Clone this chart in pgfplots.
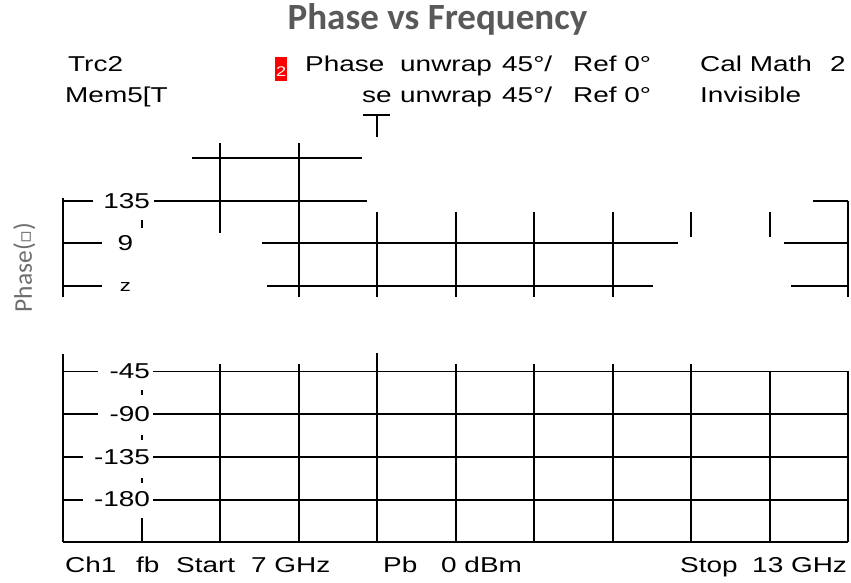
\documentclass[border=0pt]{standalone}
\usepackage{pgfplots}
\pgfplotsset{compat=1.18}
\usepackage{fontspec}
\setmainfont{Liberation Sans}
\newfontfamily\vna[FakeStretch=1.3]{Liberation Sans}
\newfontfamily\calib{Carlito}
\newfontfamily\dejavu{DejaVu Sans}
\definecolor{titlegray}{HTML}{595959}
\definecolor{labgray}{HTML}{6E6E6E}
\tikzset{
  gl/.style={black, line width=1.9pt},
  lab/.style={font=\vna\fontsize{21.5}{24}\selectfont, inner sep=0pt, text=black},
}
\begin{document}
\begin{tikzpicture}
\useasboundingbox (-63.3pt,-40.7pt) rectangle (787.7pt,542.3pt);
\begin{axis}[
  scale only axis, width=785pt, height=427pt,
  xmin=7, xmax=13, ymin=-225, ymax=225, enlargelimits=false,
  clip=false, axis line style={draw=none},
  xtick=\empty, ytick=\empty,
  title={\calib\bfseries\fontsize{37}{40}\selectfont Phase vs Frequency},
  every axis title/.style={at={(axis description cs:0.4767,1.1998)}, anchor=base, color=titlegray, inner sep=0pt},
  ylabel={\calib\fontsize{25.5}{28}\selectfont Phase({\dejavu\fontsize{19}{19}\selectfont ▫})},
  every axis y label/.style={at={(axis description cs:-0.0399,0.6436)}, rotate=90, anchor=base, color=labgray, inner sep=0pt},
]
% ---- upper fragment ----
\addplot[gl] coordinates {(9.29,225) (9.50,225)};
\addplot[gl] coordinates {(9.4,225) (9.4,202.4)};
\addplot[gl] coordinates {(7.984,180) (9.283,180)};
\addplot[gl] coordinates {(8.2,196) (8.2,101.3)};
\addplot[gl] coordinates {(8.8,196) (8.8,33.8)};
\addplot[gl] coordinates {(7,135) (7.227,135)};
\addplot[gl] coordinates {(7.693,135) (9.321,135)};
\addplot[gl] coordinates {(7,138) (7,33.8)};
\addplot[gl] coordinates {(7.6,115) (7.6,106.6)};
\addplot[gl] coordinates {(7,90) (7.296,90)};
\addplot[gl] coordinates {(8.519,90) (11.698,90)};
\addplot[gl] coordinates {(12.509,90) (13,90)};
\addplot[gl] coordinates {(7,45) (7.296,45)};
\addplot[gl] coordinates {(8.557,45) (11.507,45)};
\addplot[gl] coordinates {(12.562,45) (13,45)};
\addplot[gl] coordinates {(9.4,123.5) (9.4,33.8)};
\addplot[gl] coordinates {(10,123.5) (10,33.8)};
\addplot[gl] coordinates {(10.6,123.5) (10.6,33.8)};
\addplot[gl] coordinates {(11.2,123.5) (11.2,33.8)};
\addplot[gl] coordinates {(11.8,123.5) (11.8,97.1)};
\addplot[gl] coordinates {(12.4,123.5) (12.4,97.1)};
\addplot[gl] coordinates {(12.73,135) (13,135)};
\addplot[gl] coordinates {(13,135) (13,33.8)};
% ---- lower fragment ----
\addplot[gl] coordinates {(7,-26.3) (7,-225)};
\addplot[gl] coordinates {(8.2,-36.8) (8.2,-225)};
\addplot[gl] coordinates {(8.8,-36.8) (8.8,-225)};
\addplot[gl] coordinates {(9.4,-25.4) (9.4,-225)};
\addplot[gl] coordinates {(10,-36.8) (10,-225)};
\addplot[gl] coordinates {(10.6,-36.8) (10.6,-225)};
\addplot[gl] coordinates {(11.2,-36.8) (11.2,-225)};
\addplot[gl] coordinates {(11.8,-36.8) (11.8,-225)};
\addplot[gl] coordinates {(12.4,-45) (12.4,-225)};
\addplot[gl] coordinates {(13,-45) (13,-225)};
\addplot[gl] coordinates {(7,-225) (13,-225)};
\addplot[gl] coordinates {(7,-45) (7.265,-45)};
\addplot[gl] coordinates {(7.686,-45) (13,-45)};
\addplot[gl] coordinates {(7,-90) (7.265,-90)};
\addplot[gl] coordinates {(7.686,-90) (13,-90)};
\addplot[gl] coordinates {(7,-135) (7.151,-135)};
\addplot[gl] coordinates {(7.686,-135) (13,-135)};
\addplot[gl] coordinates {(7,-180) (7.151,-180)};
\addplot[gl] coordinates {(7.686,-180) (13,-180)};
\addplot[gl] coordinates {(7.6,-64.4) (7.6,-69.7)};
\addplot[gl] coordinates {(7.6,-111.9) (7.6,-117.1)};
\addplot[gl] coordinates {(7.6,-157.2) (7.6,-162.5)};
\addplot[gl] coordinates {(7.6,-199.4) (7.6,-225)};
% ---- tick labels ----
\node[lab, anchor=east] at (axis cs:7.664,135) {135};
\node[lab, anchor=west] at (axis cs:7.414,90) {9};
\node[lab, anchor=base west, font=\vna\fontsize{17}{17}\selectfont] at (axis cs:7.43,39.5) {z};
\node[lab, anchor=east] at (axis cs:7.664,-45) {-45};
\node[lab, anchor=east] at (axis cs:7.664,-90) {-90};
\node[lab, anchor=east] at (axis cs:7.664,-135) {-135};
\node[lab, anchor=east] at (axis cs:7.664,-180) {-180};
\end{axis}
\begin{scope}[every node/.style={font=\vna\fontsize{21.5}{24}\selectfont, inner sep=0pt, anchor=base west}]
% header line 1
\node at (4.7pt,470.3pt) {Trc2};
\fill[red] (211.7pt,461.3pt) rectangle (223.7pt,485.3pt);
\node[text=white, font=\vna\fontsize{14}{14}\selectfont] at (212.5pt,466pt) {2};
\node at (241.7pt,470.3pt) {Phase};
\node at (336.7pt,470.3pt) {unwrap};
\node at (438.7pt,470.3pt) {45°/};
\node at (509.7pt,470.3pt) {Ref 0°};
\node at (636.7pt,470.3pt) {Cal Math};
\node at (766.7pt,470.3pt) {2};
% header line 2
\node at (1.7pt,439.3pt) {Mem5[T};
\node at (298.7pt,439.3pt) {se};
\node at (336.7pt,439.3pt) {unwrap};
\node at (438.7pt,439.3pt) {45°/};
\node at (509.7pt,439.3pt) {Ref 0°};
\node at (636.7pt,439.3pt) {Invisible};
% footer
\node at (1.7pt,-30.7pt) {Ch1};
\node at (72.7pt,-30.7pt) {fb};
\node at (112.7pt,-30.7pt) {Start};
\node at (187.7pt,-30.7pt) {7 GHz};
\node at (319.7pt,-30.7pt) {Pb};
\node at (377.7pt,-30.7pt) {0 dBm};
\node at (616.7pt,-30.7pt) {Stop};
\node at (688.7pt,-30.7pt) {13 GHz};
\end{scope}
\end{tikzpicture}
\end{document}
